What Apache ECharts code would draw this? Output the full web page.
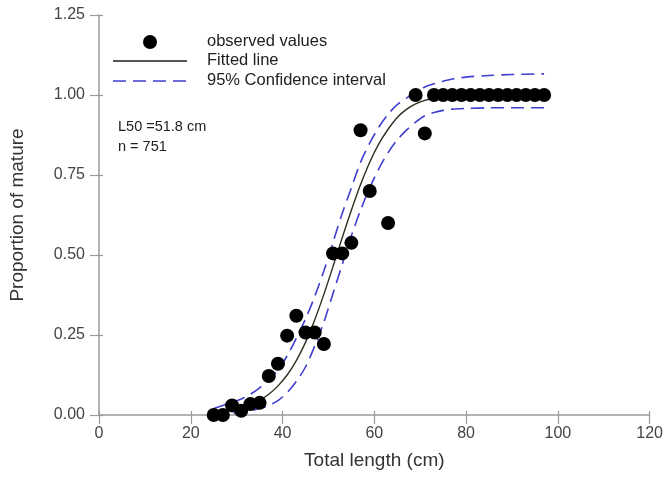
<!DOCTYPE html>
<html>
<head>
<meta charset="utf-8">
<script src="https://cdn.jsdelivr.net/npm/echarts@6/dist/echarts.min.js"></script>
<style>
  html, body { margin: 0; padding: 0; background: #fff; }
  #chart { width: 666px; height: 493px; }
</style>
</head>
<body>
<div id="chart"></div>
<script>
// Observed proportion of mature fish by length class
const obsLength = [25, 27, 29, 31, 33, 35, 37, 39, 41, 43, 45, 47, 49, 51, 53, 55, 57, 59, 63, 69, 71,
                   73, 75, 77, 79, 81, 83, 85, 87, 89, 91, 93, 95, 97];
const obsMature = [0, 0, 0.03, 0.013, 0.034, 0.038, 0.122, 0.16, 0.248, 0.31, 0.258, 0.258, 0.222, 0.505, 0.505, 0.538, 0.89, 0.70, 0.60, 1.0, 0.88,
                   1, 1, 1, 1, 1, 1, 1, 1, 1, 1, 1, 1, 1];

// Fitted maturity ogive and its 95% confidence band
const curveLength = [25, 27, 29, 31, 33, 35, 37, 39, 41, 43, 45, 47, 49, 51, 53, 55, 57, 59, 61, 63, 65, 67, 69, 71, 73, 75, 77, 80, 85, 90, 97];
const fitted =      [0.008, 0.011, 0.016, 0.023, 0.033, 0.046, 0.065, 0.091, 0.125, 0.170, 0.227, 0.297, 0.377, 0.464, 0.554, 0.640, 0.720, 0.790, 0.848, 0.893, 0.930, 0.955, 0.972, 0.983, 0.990, 0.994, 0.996, 0.998, 0.999, 1.0, 1.0];
const upperCI =     [0.02, 0.03, 0.04, 0.05, 0.065, 0.085, 0.11, 0.14, 0.185, 0.24, 0.30, 0.37, 0.45, 0.54, 0.63, 0.71, 0.79, 0.85, 0.90, 0.94, 0.97, 0.99, 1.01, 1.025, 1.035, 1.043, 1.05, 1.056, 1.061, 1.064, 1.066];
const lowerCI =     [0.0, 0.002, 0.005, 0.008, 0.013, 0.02, 0.03, 0.045, 0.07, 0.105, 0.15, 0.215, 0.29, 0.38, 0.47, 0.56, 0.64, 0.71, 0.77, 0.82, 0.86, 0.89, 0.915, 0.935, 0.945, 0.952, 0.956, 0.958, 0.96, 0.96, 0.96];

// Axis ticks
const xTicks = { min: 0, max: 120, interval: 20 };
const yTicks = { min: 0, max: 1.25, interval: 0.25 };

const pairs = (xs, ys) => xs.map((x, i) => [x, ys[i]]);

const FONT = '"Liberation Sans", Arial, sans-serif';
const AXIS_GREY = '#9a9a9a';
const CI_BLUE = '#3f3fd0';

const chart = echarts.init(document.getElementById('chart'), null, { renderer: 'canvas' });

const baseAxis = {
  axisLine: { show: true, lineStyle: { color: AXIS_GREY, width: 1.5 } },
  axisTick: { show: true, length: 9, lineStyle: { color: AXIS_GREY, width: 1.2 } },
  splitLine: { show: false },
  axisLabel: { color: '#444', fontFamily: FONT, fontSize: 16 }
};

chart.setOption({
  animation: false,
  backgroundColor: '#fff',
  grid: { left: 97, right: 13, top: 15, bottom: 78, containLabel: false },
  xAxis: [
    Object.assign({}, baseAxis, {
      type: 'value', min: xTicks.min, max: xTicks.max, interval: xTicks.interval,
      name: 'Total length (cm)', nameLocation: 'middle', nameGap: 36,
      nameTextStyle: { color: '#333', fontFamily: FONT, fontSize: 19 },
      axisLabel: Object.assign({}, baseAxis.axisLabel, { margin: 11 })
    }),
    {
      type: 'value', position: 'bottom', min: xTicks.min, max: xTicks.max, interval: xTicks.interval,
      axisLine: { show: false }, axisLabel: { show: false }, splitLine: { show: false },
      axisTick: { show: true, inside: true, length: 4, lineStyle: { color: AXIS_GREY, width: 1.2 } }
    }
  ],
  yAxis: [
    Object.assign({}, baseAxis, {
      type: 'value', min: yTicks.min, max: yTicks.max, interval: yTicks.interval,
      name: 'Proportion of mature', nameLocation: 'middle', nameGap: 72,
      nameTextStyle: { color: '#333', fontFamily: FONT, fontSize: 19 },
      axisLabel: Object.assign({}, baseAxis.axisLabel, { margin: 14, formatter: v => v.toFixed(2) })
    }),
    {
      type: 'value', position: 'left', min: yTicks.min, max: yTicks.max, interval: yTicks.interval,
      axisLine: { show: false }, axisLabel: { show: false }, splitLine: { show: false },
      axisTick: { show: true, inside: true, length: 4, lineStyle: { color: AXIS_GREY, width: 1.2 } }
    }
  ],
  series: [
    {
      name: '95% Confidence interval', type: 'line', smooth: 0.3, symbol: 'none',
      data: pairs(curveLength, upperCI),
      lineStyle: { color: CI_BLUE, width: 1.6, type: [13, 7] }, z: 2
    },
    {
      name: '95% Confidence interval (lower)', type: 'line', smooth: 0.3, symbol: 'none',
      data: pairs(curveLength, lowerCI),
      lineStyle: { color: CI_BLUE, width: 1.6, type: [13, 7] }, z: 2
    },
    {
      name: 'Fitted line', type: 'line', smooth: 0.3, symbol: 'none',
      data: pairs(curveLength, fitted),
      lineStyle: { color: '#27331f', width: 1.4 }, z: 3
    },
    {
      name: 'observed values', type: 'scatter', symbol: 'circle', symbolSize: 14,
      data: pairs(obsLength, obsMature),
      itemStyle: { color: '#000', opacity: 1 }, z: 4
    }
  ],
  graphic: [
    { type: 'circle', shape: { cx: 150, cy: 42, r: 7 }, style: { fill: '#000' } },
    { type: 'line', shape: { x1: 113, y1: 61, x2: 187, y2: 61 }, style: { stroke: '#1e1e1e', lineWidth: 1.5 } },
    { type: 'line', shape: { x1: 113, y1: 81, x2: 187, y2: 81 }, style: { stroke: CI_BLUE, lineWidth: 1.6, lineDash: [13, 7] } },
    { type: 'text', left: 207, top: 33, style: { text: 'observed values', fill: '#222', font: '16.5px ' + FONT } },
    { type: 'text', left: 207, top: 52, style: { text: 'Fitted line', fill: '#222', font: '16.5px ' + FONT } },
    { type: 'text', left: 207, top: 72, style: { text: '95% Confidence interval', fill: '#222', font: '16.5px ' + FONT } },
    { type: 'text', left: 118, top: 119, style: { text: 'L50 =51.8 cm', fill: '#222', font: '14.5px ' + FONT } },
    { type: 'text', left: 118, top: 139, style: { text: 'n = 751', fill: '#222', font: '14.5px ' + FONT } }
  ]
});
</script>
</body>
</html>
